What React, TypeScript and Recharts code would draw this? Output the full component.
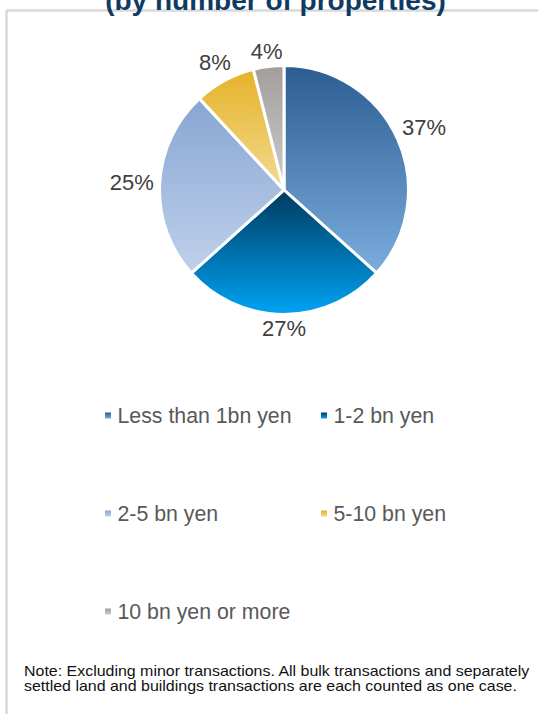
import React from "react";
import { PieChart, Pie, Cell, Legend } from "recharts";

const categories = [
  "Less than 1bn yen",
  "1-2 bn yen",
  "2-5 bn yen",
  "5-10 bn yen",
  "10 bn yen or more",
];
const shares = [37, 27, 25, 8, 4];
const title = "(by number of properties)";
const noteLines = [
  "Note: Excluding minor transactions. All bulk transactions and separately",
  "settled land and buildings transactions are each counted as one case.",
];

// top / bottom colours of each slice's vertical gradient
const gradients = [
  ["#2c5d92", "#7badde"],
  ["#003a5f", "#00a3f4"],
  ["#88a6d2", "#bfd1eb"],
  ["#e5b22a", "#f3db90"],
  ["#a29e9c", "#cccccc"],
];

const data = categories.map((name, i) => ({ name, value: shares[i] }));

const FONT = '"Liberation Sans", Arial, sans-serif';
const W = 538;
const H = 714;

const renderLabel = (props: any) => {
  const { cx, cy, midAngle, outerRadius, value } = props;
  const rad = (-midAngle * Math.PI) / 180;
  const dx = Math.cos(rad);
  const dy = Math.sin(rad);
  const text = `${value}%`;
  const digits = text.length - 1;
  const halfW = ((digits * 0.556 + 0.889) * 22) / 2;
  const dist = outerRadius - 1.5 + 7 + Math.abs(dx) * halfW + Math.abs(dy) * 8;
  return (
    <text
      x={cx + dist * dx}
      y={cy + dist * dy}
      textAnchor="middle"
      dominantBaseline="central"
      fontFamily={FONT}
      fontSize={22}
      fill="#404040"
    >
      {text}
    </text>
  );
};

const renderLegend = () => (
  <svg width={W} height={H} style={{ position: "absolute", left: 0, top: 0 }}>
    {categories.map((name, i) => {
      const col = i % 2;
      const row = Math.floor(i / 2);
      const x = 105 + col * 216;
      const y = 415.5 + row * 98;
      return (
        <g key={name}>
          <rect x={x} y={y - 3} width={6} height={6} fill={`url(#lg${i})`} />
          <text
            x={x + 12.5}
            y={y}
            dominantBaseline="central"
            fontFamily={FONT}
            fontSize={21.3}
            fill="#595959"
          >
            {name}
          </text>
        </g>
      );
    })}
  </svg>
);

export default function App() {
  return (
    <div style={{ position: "absolute", left: 0, top: 0, width: W, height: H, background: "#fff" }}>
      <svg width={W} height={H} style={{ position: "absolute", left: 0, top: 0 }}>
        <defs>
          {gradients.map(([a, b], i) => (
            <linearGradient key={i} id={`lg${i}`} x1="0" y1="0" x2="0" y2="1">
              <stop offset="0%" stopColor={a} />
              <stop offset="100%" stopColor={b} />
            </linearGradient>
          ))}
        </defs>
        <line x1={6} y1={10.5} x2={W} y2={10.5} stroke="#d9d9d9" strokeWidth={2.5} />
        <line x1={6.5} y1={10} x2={6.5} y2={H} stroke="#d9d9d9" strokeWidth={2.5} />
        <text
          x={275.5}
          y={10}
          textAnchor="middle"
          fontFamily={FONT}
          fontWeight="bold"
          fontSize={28}
          fill="#0f3b63"
        >
          {title}
        </text>
        {noteLines.map((line, i) => (
          <text
            key={i}
            transform={`translate(24 ${676 + i * 14.5}) scale(1.14 1)`}
            fontFamily={FONT}
            fontSize={14}
            fill="#111111"
          >
            {line}
          </text>
        ))}
      </svg>
      <div style={{ position: "absolute", left: 0, top: 0 }}>
        <PieChart width={W} height={H}>
          <defs>
            {gradients.map(([a, b], i) => (
              <linearGradient key={i} id={`pg${i}`} x1="0" y1="0" x2="0" y2="1">
                <stop offset="0%" stopColor={a} />
                <stop offset="100%" stopColor={b} />
              </linearGradient>
            ))}
          </defs>
          <Pie
            data={data}
            dataKey="value"
            nameKey="name"
            cx={279}
            cy={185}
            outerRadius={124.5}
            startAngle={90}
            endAngle={-270}
            stroke="#ffffff"
            strokeWidth={3}
            label={renderLabel}
            labelLine={false}
            isAnimationActive={false}
          >
            {data.map((d, i) => (
              <Cell key={d.name} fill={`url(#pg${i})`} />
            ))}
          </Pie>
          <Legend
            content={renderLegend}
            wrapperStyle={{ position: "absolute", left: 0, top: 0, width: W, height: H }}
          />
        </PieChart>
      </div>
    </div>
  );
}
